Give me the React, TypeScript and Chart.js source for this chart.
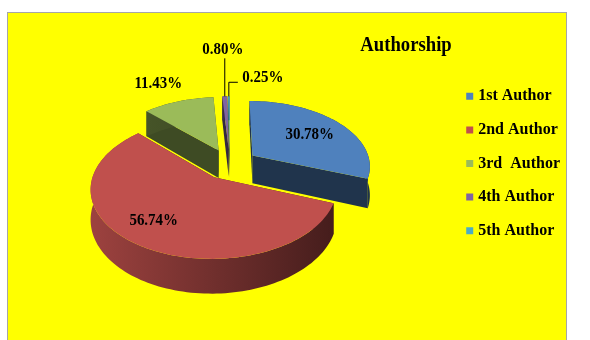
import React, { useEffect, useRef } from "react";
import { Chart, registerables } from "chart.js";

Chart.register(...registerables);

const categories = ["1st Author", "2nd Author", "3rd  Author", "4th Author", "5th Author"];
const shares = [30.78, 56.74, 11.43, 0.8, 0.25];
const colors = ["#4f81bd", "#c0504d", "#9bbb59", "#8064a2", "#4bacc6"];
const chartTitle = "Authorship";

// Where along the slice radius each percentage sits, plus a fine adjustment.
const labelRadius = [0.6, 0.65, 1, 1, 1];
const labelNudge = [[4, -1], [-12, 2], [-20, -18], [-2, -47], [34, -19]];
// Leader lines for the two thinnest slices, as [rise, run] from the rim.
const leaders: (number[] | null)[] = [null, null, null, [38, 0], [14, 9]];

// Tilted-disc projection used to give the pie its 3D look.
const TILT = 0.55;
const PERSPECTIVE = 0.15;
const DEPTH = 28.5;
const FACE_SHIFT = 0.5;

function shade(hex: string, f: number) {
  const n = parseInt(hex.slice(1), 16);
  const c = [(n >> 16) & 255, (n >> 8) & 255, n & 255].map((v) => Math.round(v * f));
  return `rgb(${c[0]},${c[1]},${c[2]})`;
}

const pie3d = {
  id: "pie3d",
  beforeDatasetsDraw(chart: any) {
    const ctx = chart.ctx;
    const arcs = chart.getDatasetMeta(0).data;

    const sliceGeometry = (arc: any) => {
      const R = arc.outerRadius;
      const a0 = arc.startAngle + Math.PI / 2;
      const a1 = arc.endAngle + Math.PI / 2;
      const mid = (a0 + a1) / 2;
      const e = arc.options.offset / R;
      const project = (theta: number, r: number) => {
        const u = r * Math.sin(theta) + e * Math.sin(mid);
        const f = -r * Math.cos(theta) - e * Math.cos(mid);
        const w = 1 / (1 - PERSPECTIVE * f);
        return { x: arc.x + R * u * w, y: arc.y + FACE_SHIFT + R * TILT * f * w, d: DEPTH * w };
      };
      const rim: { x: number; y: number; d: number }[] = [];
      const steps = Math.max(2, Math.ceil((a1 - a0) / 0.03));
      for (let i = 0; i <= steps; i++) rim.push(project(a0 + ((a1 - a0) * i) / steps, 1));
      return { project, rim, vertex: project(0, 0), mid };
    };

    const quad = (a: any, b: any, fill: any) => {
      ctx.beginPath();
      ctx.moveTo(a.x, a.y);
      ctx.lineTo(b.x, b.y);
      ctx.lineTo(b.x, b.y + b.d);
      ctx.lineTo(a.x, a.y + a.d);
      ctx.closePath();
      ctx.fillStyle = fill;
      ctx.fill();
    };

    // Back slices first, the large front slice last.
    [4, 3, 2, 0, 1].forEach((i) => {
      const arc = arcs[i];
      const color = colors[i];
      const { rim, vertex } = sliceGeometry(arc);
      const flat = shade(color, 0.4);

      quad(vertex, rim[0], flat);
      quad(vertex, rim[rim.length - 1], flat);

      const xs = rim.map((p) => p.x);
      const grad = ctx.createLinearGradient(Math.min(...xs), 0, Math.max(...xs), 0);
      grad.addColorStop(0, shade(color, i === 1 ? 0.82 : 0.45));
      grad.addColorStop(1, shade(color, i === 1 ? 0.36 : 0.4));
      ctx.beginPath();
      rim.forEach((p, k) => (k ? ctx.lineTo(p.x, p.y) : ctx.moveTo(p.x, p.y)));
      for (let k = rim.length - 1; k >= 0; k--) ctx.lineTo(rim[k].x, rim[k].y + rim[k].d);
      ctx.closePath();
      ctx.fillStyle = grad;
      ctx.fill();

      ctx.beginPath();
      ctx.moveTo(vertex.x, vertex.y);
      rim.forEach((p) => ctx.lineTo(p.x, p.y));
      ctx.closePath();
      ctx.fillStyle = color;
      ctx.fill();
    });

    // Percentages and their leader lines.
    ctx.fillStyle = "#000";
    ctx.strokeStyle = "#000";
    ctx.lineWidth = 1;
    ctx.textAlign = "center";
    ctx.textBaseline = "middle";
    arcs.forEach((arc: any, i: number) => {
      const { project, mid } = sliceGeometry(arc);
      const a = project(mid, labelRadius[i]);
      const leader = leaders[i];
      if (leader) {
        ctx.beginPath();
        ctx.moveTo(a.x, a.y);
        ctx.lineTo(a.x, a.y - leader[0]);
        ctx.lineTo(a.x + leader[1], a.y - leader[0]);
        ctx.stroke();
      }
      ctx.save();
      ctx.translate(a.x + labelNudge[i][0], a.y + labelNudge[i][1]);
      ctx.scale(0.88, 1);
      ctx.font = 'bold 17px "Liberation Serif"';
      ctx.fillStyle = "#000";
      ctx.fillText(shares[i].toFixed(2) + "%", 0, 0);
      ctx.restore();
    });

    // Title, condensed horizontally like the percentages.
    ctx.save();
    ctx.translate(398, 32);
    ctx.scale(0.85, 1);
    ctx.font = 'bold 22px "Liberation Serif"';
    ctx.fillText(chartTitle, 0, 0);
    ctx.restore();

    return false;
  },
};

export default function App() {
  const canvasRef = useRef<HTMLCanvasElement>(null);

  useEffect(() => {
    const chart = new Chart(canvasRef.current as HTMLCanvasElement, {
      type: "pie",
      data: {
        labels: categories,
        datasets: [{ data: shares, backgroundColor: colors, offset: 28, borderWidth: 0 }],
      },
      options: {
        animation: false,
        responsive: false,
        radius: 118,
        layout: { padding: { bottom: 26, right: -4, left: -2 } },
        plugins: {
          tooltip: { enabled: false },
          title: { display: false },
          legend: {
            position: "right",
            labels: {
              color: "#000",
              boxWidth: 1,
              boxHeight: 1,
              padding: 17.6,
              font: { family: '"Liberation Serif"', size: 16, weight: "bold" },
              generateLabels: () =>
                categories.map((text, i) => ({
                  text,
                  fillStyle: colors[i],
                  strokeStyle: colors[i],
                  lineWidth: 6,
                  fontColor: "#000",
                  index: i,
                })),
            },
          },
        },
      } as any,
      plugins: [pie3d as any],
    });
    return () => chart.destroy();
  }, []);

  return (
    <div style={{ position: "absolute", left: 0, top: 0, width: 590, height: 340, overflow: "hidden", background: "#fff" }}>
      <div
        style={{
          position: "absolute",
          left: 7,
          top: 12,
          width: 558,
          height: 340,
          background: "#ffff00",
          border: "1px solid #a6a6a6",
        }}
      >
        <canvas ref={canvasRef} width={558} height={327} style={{ display: "block" }} />
      </div>
    </div>
  );
}
